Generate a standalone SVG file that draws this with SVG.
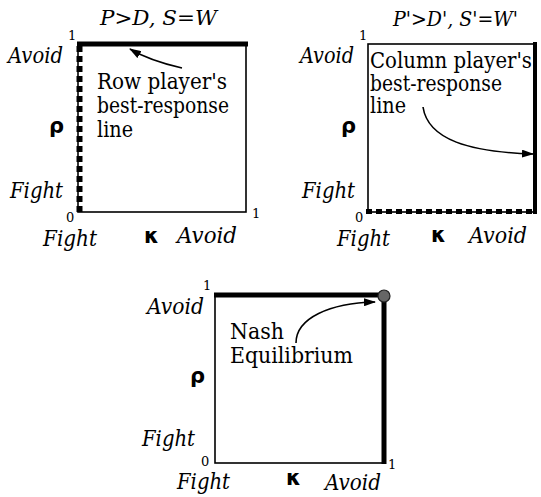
<svg xmlns="http://www.w3.org/2000/svg" width="541" height="497" viewBox="0 0 541 497">
<defs>
<style>
.box{fill:none;stroke:#000;stroke-width:1.6}
.thick{stroke:#000;stroke-width:5;fill:none}
.dash{stroke:#000;stroke-width:6;fill:none;stroke-dasharray:6 4}
text{font-family:"DejaVu Serif",serif;fill:#000}
.lab{font-style:italic;font-size:22px}
.txt{font-size:22px}
.num{font-size:13px}
.ttl{font-style:italic;font-size:20px}
.gr{font-family:"DejaVu Sans",sans-serif;font-weight:bold;font-size:21px}
.arr{fill:none;stroke:#000;stroke-width:1.6;marker-end:url(#ah)}
</style>
<marker id="ah" markerWidth="12" markerHeight="8" refX="11" refY="4" orient="auto" markerUnits="userSpaceOnUse">
<path d="M0,0 L12,4 L0,8 z" fill="#000"/>
</marker>
</defs>
<rect width="541" height="497" fill="#fff"/>

<g id="panel-row">
<text class="ttl" x="100" y="25" textLength="117" lengthAdjust="spacingAndGlyphs">P&gt;D, S=W</text>
<rect class="box" x="78" y="44" width="168" height="168"/>
<line class="thick" x1="77" y1="44" x2="248" y2="44"/>
<line class="dash" x1="79.5" y1="46" x2="79.5" y2="212"/>
<text class="num" x="68" y="40">1</text>
<text class="lab" x="8" y="63" textLength="55" lengthAdjust="spacingAndGlyphs">Avoid</text>
<text class="gr" x="49" y="133">ρ</text>
<text class="lab" x="10" y="198" textLength="53" lengthAdjust="spacingAndGlyphs">Fight</text>
<text class="num" x="66" y="222">0</text>
<text class="lab" x="43" y="246" textLength="54" lengthAdjust="spacingAndGlyphs">Fight</text>
<text class="gr" x="144" y="243">κ</text>
<text class="lab" x="177" y="243" textLength="60" lengthAdjust="spacingAndGlyphs">Avoid</text>
<text class="num" x="252" y="218">1</text>
<text class="txt" x="97" y="89" textLength="130" lengthAdjust="spacingAndGlyphs">Row player's</text>
<text class="txt" x="97" y="113" textLength="132" lengthAdjust="spacingAndGlyphs">best-response</text>
<text class="txt" x="97" y="137" textLength="36" lengthAdjust="spacingAndGlyphs">line</text>
</g>

<g id="panel-column">
<text class="ttl" x="393" y="26" textLength="125" lengthAdjust="spacingAndGlyphs">P'&gt;D', S'=W'</text>
<rect class="box" x="368" y="44" width="168" height="168"/>
<line class="thick" x1="535" y1="42" x2="535" y2="214" style="stroke-width:4"/>
<line class="dash" x1="366" y1="211.5" x2="533" y2="211.5" style="stroke-width:5"/>
<text class="num" x="359" y="40">1</text>
<text class="lab" x="300" y="63" textLength="54" lengthAdjust="spacingAndGlyphs">Avoid</text>
<text class="gr" x="341" y="133">ρ</text>
<text class="lab" x="302" y="198" textLength="53" lengthAdjust="spacingAndGlyphs">Fight</text>
<text class="num" x="355" y="222">0</text>
<text class="lab" x="337" y="246" textLength="53" lengthAdjust="spacingAndGlyphs">Fight</text>
<text class="gr" x="431" y="242">κ</text>
<text class="lab" x="469" y="243" textLength="58" lengthAdjust="spacingAndGlyphs">Avoid</text>
<text class="txt" x="370" y="68" textLength="162" lengthAdjust="spacingAndGlyphs">Column player's</text>
<text class="txt" x="370" y="91" textLength="132" lengthAdjust="spacingAndGlyphs">best-response</text>
<text class="txt" x="370" y="113" textLength="36" lengthAdjust="spacingAndGlyphs">line</text>
</g>

<g id="panel-nash">
<rect class="box" x="215" y="295" width="169" height="168"/>
<line class="thick" x1="214" y1="295" x2="384" y2="295"/>
<line class="thick" x1="384" y1="295" x2="384" y2="464"/>
<circle cx="384" cy="296" r="6" fill="#666" stroke="#222" stroke-width="1.2"/>
<text class="num" x="203" y="290">1</text>
<text class="lab" x="147" y="314" textLength="57" lengthAdjust="spacingAndGlyphs">Avoid</text>
<text class="gr" x="190" y="383">ρ</text>
<text class="lab" x="142" y="446" textLength="53" lengthAdjust="spacingAndGlyphs">Fight</text>
<text class="num" x="201" y="466">0</text>
<text class="lab" x="177" y="489" textLength="53" lengthAdjust="spacingAndGlyphs">Fight</text>
<text class="gr" x="286" y="485">κ</text>
<text class="lab" x="325" y="490" textLength="56" lengthAdjust="spacingAndGlyphs">Avoid</text>
<text class="num" x="388" y="469">1</text>
<text class="txt" x="230" y="339" textLength="54" lengthAdjust="spacingAndGlyphs">Nash</text>
<text class="txt" x="230" y="363" textLength="123" lengthAdjust="spacingAndGlyphs">Equilibrium</text>
</g>

<g id="connectors">
<path class="arr" d="M182,68 C160,63 145,58 130,49"/>
<path class="arr" d="M423,107 C428,140 470,152 533,154"/>
<path class="arr" d="M296,343 C296,318 330,303 375,302"/>
</g>
</svg>
